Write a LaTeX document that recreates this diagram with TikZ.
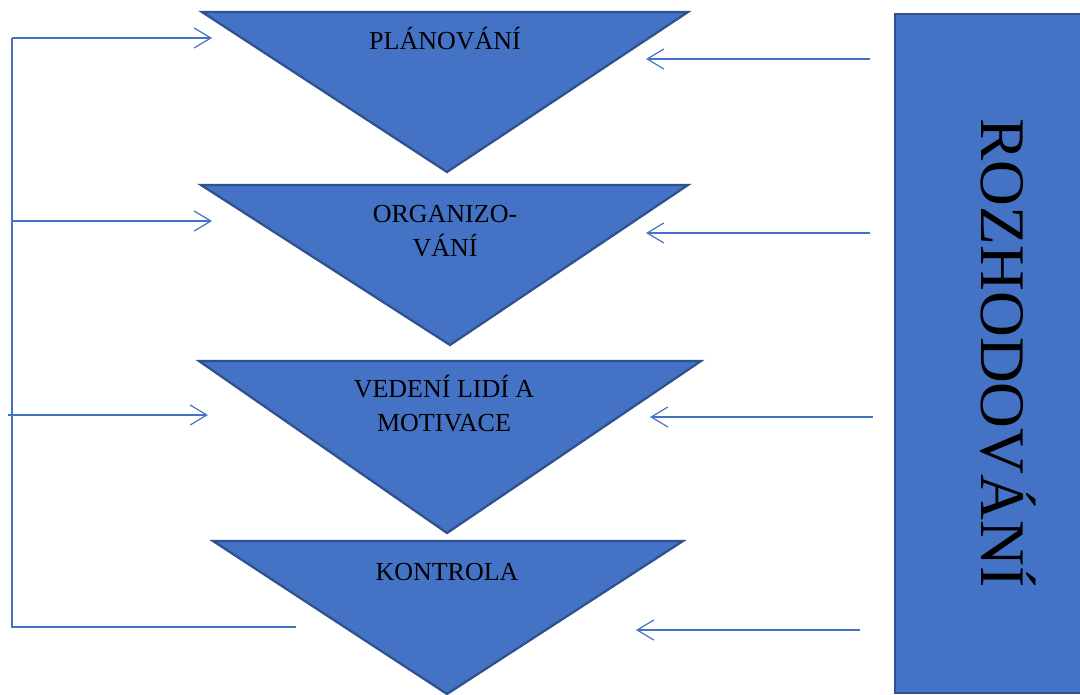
\documentclass[tikz,border=0pt]{standalone}
\usepackage{fontspec}
\setmainfont{Liberation Serif}
\usepackage{xcolor}
\usetikzlibrary{arrows.meta}
\definecolor{fillblue}{HTML}{4472C4}
\definecolor{edgeblue}{HTML}{2F528F}
\begin{document}
\begin{tikzpicture}[x=0.75pt,y=-0.75pt,
funnel/.style={fill=fillblue,draw=edgeblue,line width=1.7pt,line join=miter},
steptext/.style={font=\fontsize{19.5}{25}\selectfont,align=center,anchor=base},
flow/.style={draw=fillblue,line width=0.9pt,-{Straight Barb[length=12.5pt,width=15pt]}},
plain/.style={draw=fillblue,line width=0.9pt}]
\useasboundingbox(0,0)rectangle(1080,695);
\clip(0,0)rectangle(1080,695);
% funnels
\draw[funnel](202,12)--(688,12)--(447,172)--cycle;
\draw[funnel](201,185)--(688,185)--(450,345)--cycle;
\draw[funnel](199,361)--(701,361)--(447,533)--cycle;
\draw[funnel](213,541)--(683,541)--(447,694)--cycle;
\node[steptext](plan)at(445,50){PLÁNOVÁNÍ};
\node[steptext](org)at(445,256){ORGANIZO-\\VÁNÍ};
\node[steptext](ved)at(444,431){VEDENÍ LIDÍ A\\MOTIVACE};
\node[steptext](kon)at(447,580){KONTROLA};
% decision box
\draw[fill=fillblue,draw=edgeblue,line width=1.7pt](895,14)rectangle(1090,693);
\node[font=\fontsize{47.6}{50}\selectfont,rotate=-90,anchor=base](roz)at(981,353){ROZHODOVÁNÍ};
% left feedback
\coordinate(l1)at(12,38);\coordinate(a1)at(212,38);
\coordinate(l2)at(12,221);\coordinate(a2)at(212,221);
\coordinate(l3)at(8,415);\coordinate(a3)at(208,415);
\coordinate(l4)at(12,627);\coordinate(a4)at(296,627);
\draw[plain](l1)--(l4)--(a4);
\draw[flow](l1)--(a1);
\draw[flow](l2)--(a2);
\draw[flow](l3)--(a3);
% right inputs
\coordinate(r1)at(870,59);\coordinate(b1)at(646,59);
\coordinate(r2)at(870,233);\coordinate(b2)at(646,233);
\coordinate(r3)at(873,417);\coordinate(b3)at(650,417);
\coordinate(r4)at(860,630);\coordinate(b4)at(636,630);
\draw[flow](r1)--(b1);
\draw[flow](r2)--(b2);
\draw[flow](r3)--(b3);
\draw[flow](r4)--(b4);
\end{tikzpicture}
\end{document}
